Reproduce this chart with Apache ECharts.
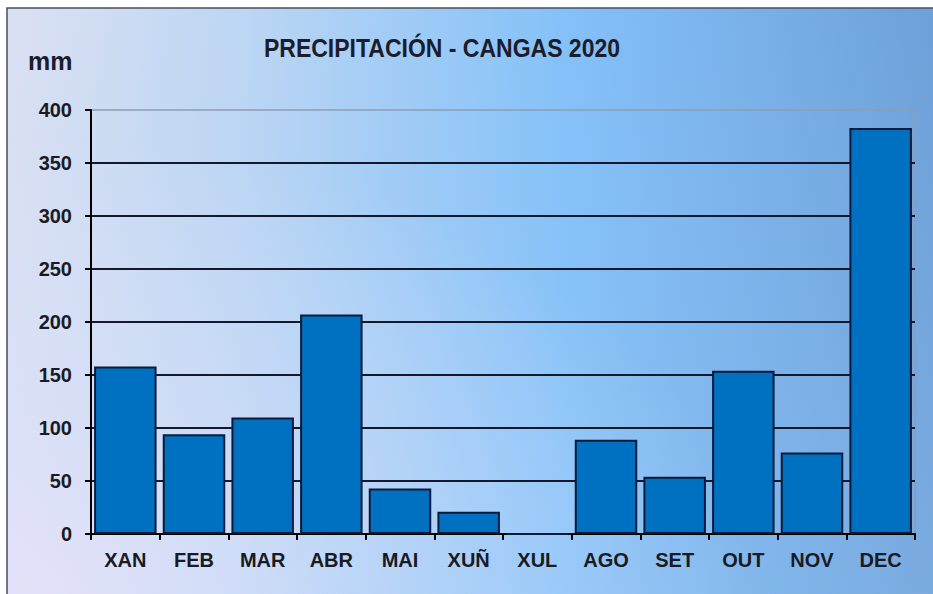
<!DOCTYPE html>
<html><head><meta charset="utf-8">
<script src="https://cdn.jsdelivr.net/npm/echarts@6/dist/echarts.min.js"></script>
<style>html,body{margin:0;padding:0;background:#fff}#c{width:933px;height:594px}</style>
</head><body><div id="c"></div>
<script>
const months = ['XAN','FEB','MAR','ABR','MAI','XUÑ','XUL','AGO','SET','OUT','NOV','DEC'];
const precipitation = [158, 94, 110, 207, 43, 21, 0, 89, 54, 154, 77, 383];
const yMin = 0, yMax = 400, yStep = 50;
const titleText = 'PRECIPITACIÓN - CANGAS 2020';
const unitText = 'mm';

const FONT = '"Liberation Sans", Arial, sans-serif';
const chart = echarts.init(document.getElementById('c'), null, {renderer: 'svg'});
chart.setOption({
  animation: false,
  backgroundColor: '#ffffff',
  graphic: [
    {
      type: 'rect', z: -100, silent: true,
      shape: {x: 7, y: 8, width: 960, height: 620},
      style: {
        fill: {
          type: 'linear', x: 0, y: 0, x2: 1, y2: 0,
          colorStops: [
            {offset: 0, color: '#dce1f2'},
            {offset: 0.25, color: '#bcd6f3'},
            {offset: 0.58, color: '#84c1f8'},
            {offset: 1, color: '#6c9dd6'}
          ]
        },
        stroke: '#4a4f5c', lineWidth: 1.5
      }
    },
    {
      type: 'rect', z: -99, silent: true,
      shape: {x: 8, y: 9, width: 958, height: 618},
      style: {
        fill: {
          type: 'radial', x: 0, y: 1, r: 0.8,
          colorStops: [
            {offset: 0, color: 'rgba(255,232,250,0.9)'},
            {offset: 0.45, color: 'rgba(250,236,252,0.35)'},
            {offset: 1, color: 'rgba(250,240,255,0)'}
          ]
        }
      }
    },
    {
      type: 'rect', z: -98, silent: true,
      shape: {x: 8, y: 9, width: 958, height: 618},
      style: {
        fill: {
          type: 'linear', x: 0, y: 0, x2: 0, y2: 1,
          colorStops: [
            {offset: 0, color: 'rgba(160,200,245,0)'},
            {offset: 1, color: 'rgba(160,205,250,0.25)'}
          ]
        }
      }
    },
    {
      type: 'text', x: 442, y: 48, scaleX: 0.92, z: 10,
      style: {text: titleText, font: 'bold 25px ' + FONT, fill: '#1c1c2a', align: 'center', verticalAlign: 'middle'}
    },
    {
      type: 'text', x: 28, y: 61, z: 10,
      style: {text: unitText, font: 'bold 25px ' + FONT, fill: '#1c1c2a', align: 'left', verticalAlign: 'middle'}
    }
  ],
  grid: {
    left: 91, right: 18, top: 110, bottom: 60,
    show: true, borderColor: '#8d9db5', borderWidth: 1.5, backgroundColor: 'transparent'
  },
  xAxis: {
    type: 'category',
    data: months,
    axisLine: {show: true, lineStyle: {color: '#000', width: 2}},
    axisTick: {show: true, length: 6, lineStyle: {color: '#000', width: 2}},
    axisLabel: {fontSize: 20, fontWeight: 'bold', fontFamily: FONT, color: '#1a1a22', margin: 16},
    splitLine: {show: false}
  },
  yAxis: {
    type: 'value',
    min: yMin, max: yMax, interval: yStep,
    axisLine: {show: true, lineStyle: {color: '#000', width: 2}},
    axisTick: {show: true, length: 6, lineStyle: {color: '#000', width: 2}},
    axisLabel: {fontSize: 20, fontWeight: 'bold', fontFamily: FONT, color: '#1a1a22', margin: 19},
    splitLine: {show: true, showMaxLine: false, showMinLine: false, lineStyle: {color: '#15182a', width: 2}}
  },
  series: [{
    type: 'bar',
    data: precipitation,
    barCategoryGap: '9%',
    itemStyle: {color: '#0070c0', borderColor: '#0b1a3a', borderWidth: 2}
  }]
});
</script></body></html>
